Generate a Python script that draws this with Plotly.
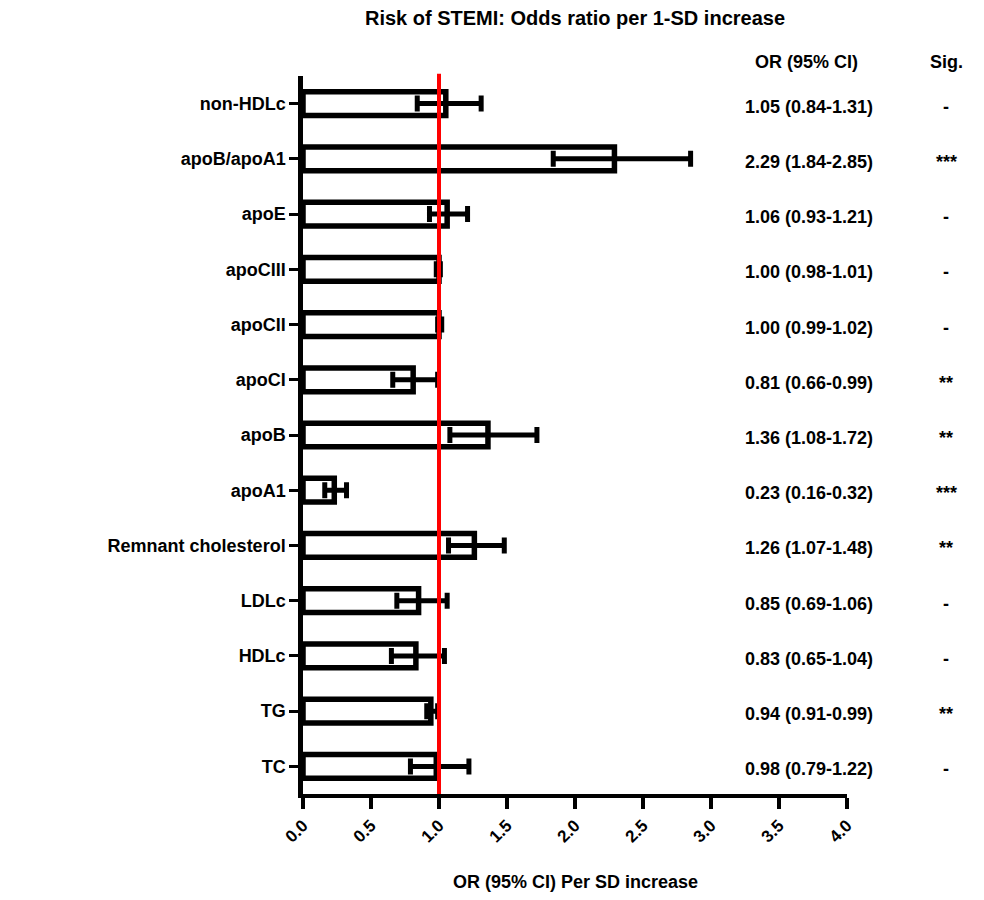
import plotly.graph_objects as go

categories = ["non-HDLc", "apoB/apoA1", "apoE", "apoCIII", "apoCII", "apoCI", "apoB",
              "apoA1", "Remnant cholesterol", "LDLc", "HDLc", "TG", "TC"]
or_values = [1.05, 2.29, 1.06, 1.00, 1.00, 0.81, 1.36, 0.23, 1.26, 0.85, 0.83, 0.94, 0.98]
ci_low = [0.84, 1.84, 0.93, 0.98, 0.99, 0.66, 1.08, 0.16, 1.07, 0.69, 0.65, 0.91, 0.79]
ci_high = [1.31, 2.85, 1.21, 1.01, 1.02, 0.99, 1.72, 0.32, 1.48, 1.06, 1.04, 0.99, 1.22]
or_text = ["1.05 (0.84-1.31)", "2.29 (1.84-2.85)", "1.06 (0.93-1.21)", "1.00 (0.98-1.01)",
           "1.00 (0.99-1.02)", "0.81 (0.66-0.99)", "1.36 (1.08-1.72)", "0.23 (0.16-0.32)",
           "1.26 (1.07-1.48)", "0.85 (0.69-1.06)", "0.83 (0.65-1.04)", "0.94 (0.91-0.99)",
           "0.98 (0.79-1.22)"]
sig_text = ["-", "***", "-", "-", "-", "**", "**", "***", "**", "-", "-", "**", "-"]
x_ticks = [0.0, 0.5, 1.0, 1.5, 2.0, 2.5, 3.0, 3.5, 4.0]
reference_or = 1.0

FONT = "Liberation Sans, Arial, sans-serif"
# page body has an 8px margin; figure is sized/positioned to compensate
FIG_W, FIG_H = 976, 892
ML, MR, MT, MB = 295, 137, 68, 106
plot_top_px, plot_bottom_px = 76, 794  # in window pixels


def py(px):
    return (plot_bottom_px - px) / (plot_bottom_px - plot_top_px)


def bold(size):
    return dict(family=FONT, size=size, color="black", weight="bold")


err_plus = [h - v for h, v in zip(ci_high, or_values)]
err_minus = [v - l for l, v in zip(ci_low, or_values)]

fig = go.Figure()
fig.add_trace(go.Bar(
    y=categories, x=or_values, orientation="h", width=0.43,
    marker=dict(color="white", line=dict(color="black", width=5.5)),
    error_x=dict(type="data", symmetric=False, array=err_plus, arrayminus=err_minus,
                 color="black", thickness=5, width=8),
    showlegend=False, hoverinfo="skip",
))

fig.add_shape(type="line", xref="x", yref="paper", x0=reference_or, x1=reference_or,
              y0=0, y1=1.003, line=dict(color="#ff0000", width=4), layer="above")

annotations = []
for c, t, s in zip(categories, or_text, sig_text):
    annotations.append(dict(x=0.930, xref="paper", y=c, yref="y", text=t, showarrow=False,
                            xanchor="center", yshift=-3, font=bold(18)))
    annotations.append(dict(x=1.182, xref="paper", y=c, yref="y", text=s, showarrow=False,
                            xanchor="center", yshift=-3, font=bold(18)))
annotations.append(dict(x=0.925, xref="paper", y=py(62), yref="paper", text="OR (95% CI)",
                        showarrow=False, xanchor="center", yanchor="middle", font=bold(18)))
annotations.append(dict(x=1.182, xref="paper", y=py(62), yref="paper", text="Sig.",
                        showarrow=False, xanchor="center", yanchor="middle", font=bold(18)))
annotations.append(dict(x=0.5, xref="paper", y=py(882), yref="paper",
                        text="OR (95% CI) Per SD increase", showarrow=False,
                        xanchor="center", yanchor="middle", font=bold(18)))

fig.update_layout(
    width=FIG_W, height=FIG_H,
    margin=dict(l=ML, r=MR, t=MT, b=MB),
    plot_bgcolor="white", paper_bgcolor="white",
    title=dict(text="Risk of STEMI: Odds ratio per 1-SD increase", xref="paper",
               x=(575 - 303) / 544, xanchor="center", yref="container",
               y=1 - 10 / FIG_H, yanchor="middle", font=bold(20)),
    annotations=annotations,
)
fig.update_xaxes(range=[0, 4], tickvals=x_ticks, ticktext=[f"{v:.1f}" for v in x_ticks],
                 tickangle=-45, showgrid=False, zeroline=False,
                 showline=True, linecolor="black", linewidth=4,
                 ticks="outside", ticklen=11, tickwidth=4, tickcolor="black",
                 tickfont=bold(17), automargin=False)
fig.update_yaxes(type="category", categoryorder="array", categoryarray=categories,
                 autorange=False, range=[12.5, -0.5],
                 showgrid=False, zeroline=False,
                 showline=True, linecolor="black", linewidth=4.5,
                 ticks="outside", ticklen=9, tickwidth=3, tickcolor="black",
                 tickfont=bold(18), automargin=False)

fig.write_html("out.html")
